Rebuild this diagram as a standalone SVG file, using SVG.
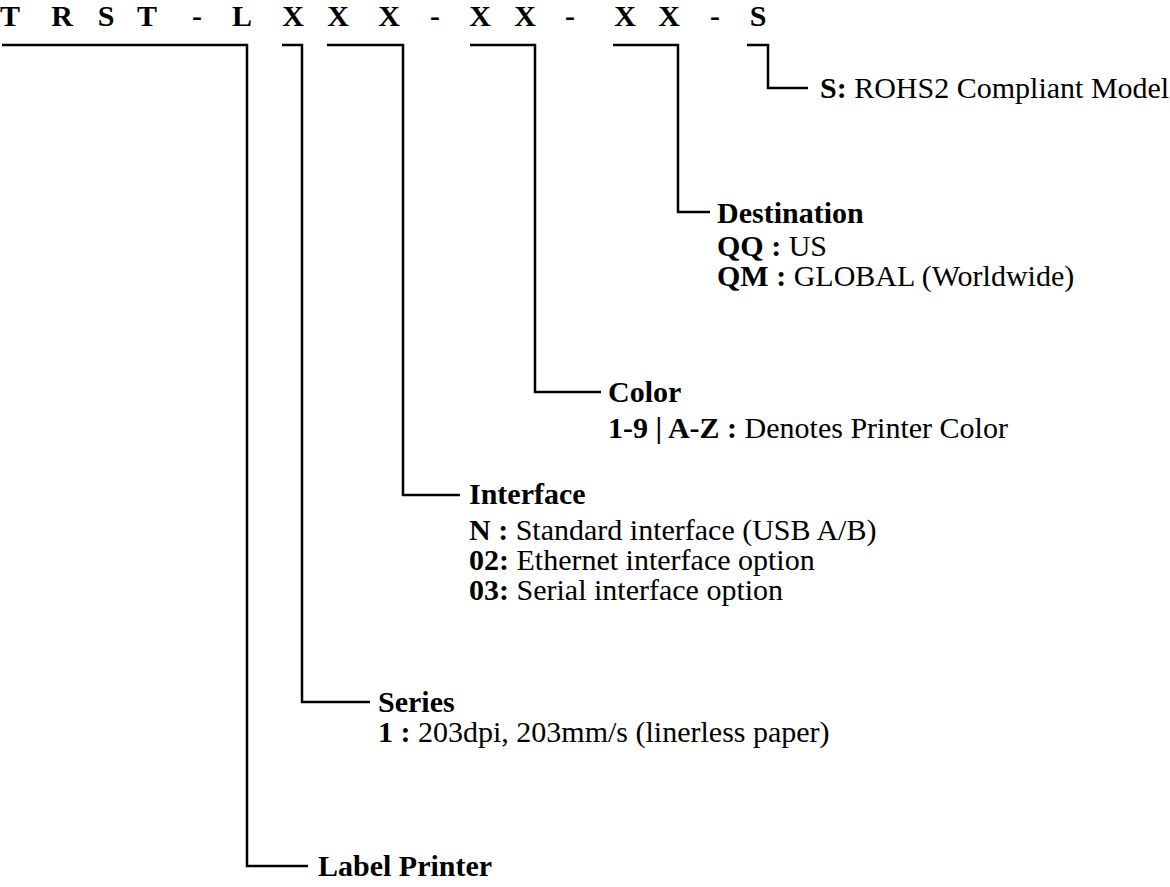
<svg xmlns="http://www.w3.org/2000/svg" width="1170" height="887" viewBox="0 0 1170 887">
<style>
text{font-family:"Liberation Serif","Times New Roman",serif;font-size:30px;fill:#000}
.b{font-weight:bold}
.hd text{font-weight:bold;text-anchor:middle}
.c path{fill:none;stroke:#000;stroke-width:2.5}
</style>
<rect width="1170" height="887" fill="#fff"/>
<g id="header" class="hd">
<text x="10" y="26">T</text><text x="62" y="26">R</text><text x="106" y="26">S</text><text x="147" y="26">T</text>
<text x="197" y="26">-</text><text x="242" y="26">L</text><text x="293" y="26">X</text><text x="338" y="26">X</text>
<text x="389" y="26">X</text><text x="435" y="26">-</text><text x="480" y="26">X</text><text x="525" y="26">X</text>
<text x="570" y="26">-</text><text x="625" y="26">X</text><text x="669" y="26">X</text><text x="715" y="26">-</text>
<text x="758" y="26">S</text>
</g>
<g id="connectors" class="c">
<path d="M2,45H247V866H308"/>
<path d="M282,45H302V702H370"/>
<path d="M327,45H403V495H460"/>
<path d="M470,45H535V392H601"/>
<path d="M613,45H678V212H710"/>
<path d="M747,45H768V88H808"/>
</g>
<g id="label-printer"><text class="b" x="318" y="876">Label Printer</text></g>
<g id="series">
<text class="b" x="378" y="712">Series</text>
<text x="378" y="742"><tspan class="b">1 :</tspan> 203dpi, 203mm/s (linerless paper)</text>
</g>
<g id="interface">
<text class="b" x="469" y="504">Interface</text>
<text x="469" y="540"><tspan class="b">N :</tspan> Standard interface (USB A/B)</text>
<text x="469" y="570"><tspan class="b">02:</tspan> Ethernet interface option</text>
<text x="469" y="600"><tspan class="b">03:</tspan> Serial interface option</text>
</g>
<g id="color">
<text class="b" x="608" y="402">Color</text>
<text x="608" y="438"><tspan class="b">1-9 | A-Z :</tspan> Denotes Printer Color</text>
</g>
<g id="destination">
<text class="b" x="717" y="223">Destination</text>
<text x="717" y="256"><tspan class="b">QQ :</tspan> US</text>
<text x="717" y="286"><tspan class="b">QM :</tspan> GLOBAL (Worldwide)</text>
</g>
<g id="rohs"><text x="820" y="98"><tspan class="b">S:</tspan> ROHS2 Compliant Model</text></g>
</svg>
